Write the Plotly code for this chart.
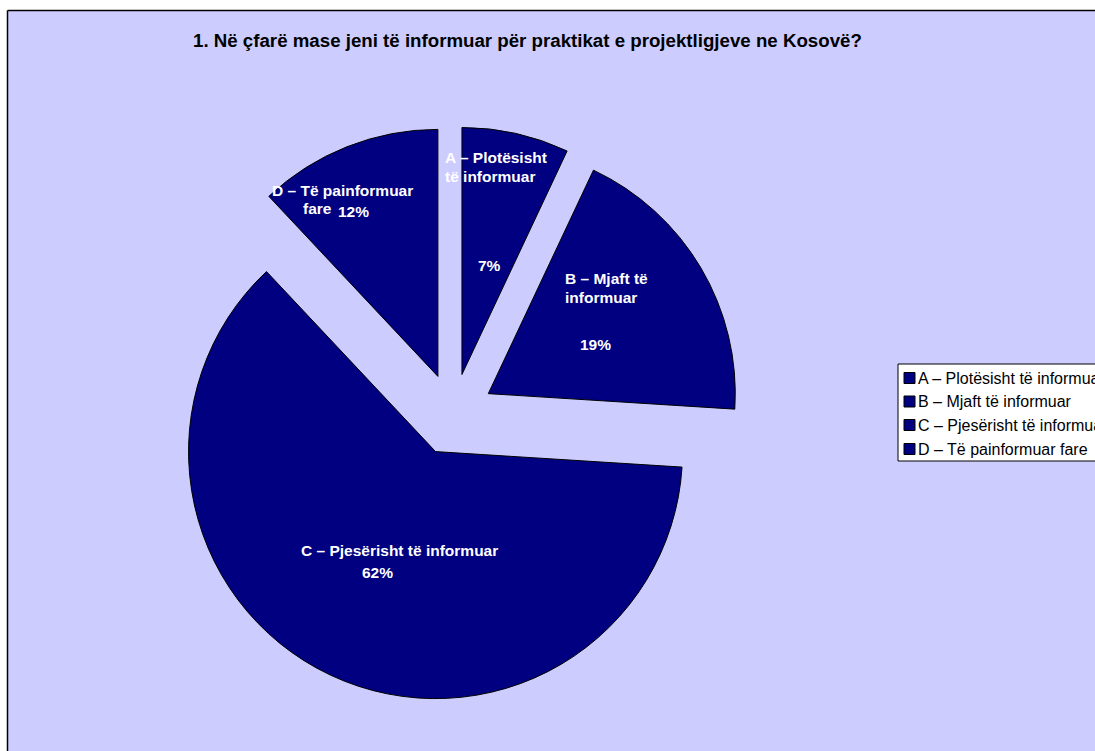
import plotly.graph_objects as go

# Survey answers: share of respondents per category (percent)
categories = [
    "A – Plotësisht të informuar",
    "B – Mjaft të informuar",
    "C – Pjesërisht të informuar",
    "D – Të painformuar fare",
]
values = [7, 19, 62, 12]

# In-slice label lines for each category
slice_label_lines = [
    ["A – Plotësisht", "të informuar"],
    ["B – Mjaft të", "informuar"],
    ["C – Pjesërisht të informuar"],
    ["D – Të painformuar", "fare"],
]

title_text = "1. Në çfarë mase jeni të informuar për praktikat e projektligjeve ne Kosovë?"

W, H = 1095, 751
NAVY = "#000080"
BG = "#CCCCFF"
FONT = "Liberation Sans, Arial, sans-serif"


def px(x):
    return x / W


def py(y):
    return 1 - y / H


# pie geometry (pixels)
cx, cy, r, pull = 453, 414.5, 247, 0.166
half = r * (1 + pull)

fig = go.Figure()
fig.add_trace(go.Pie(
    labels=categories,
    values=values,
    sort=False,
    direction="clockwise",
    rotation=0,
    pull=[pull] * len(values),
    marker=dict(colors=[NAVY] * len(values), line=dict(color="black", width=1)),
    textinfo="none",
    hoverinfo="label+percent",
    showlegend=False,
    domain=dict(x=[px(cx - half), px(cx + half)], y=[py(cy + half), py(cy - half)]),
))

total = sum(values)
pct = [f"{round(v / total * 100)}%" for v in values]

lab_font = dict(family=FONT, size=15.5, color="white")
annotations = []
shapes = []


def add_text(text, x, y, xanchor="left"):
    annotations.append(dict(
        text=f"<b>{text}</b>", x=px(x), y=py(y), xref="paper", yref="paper",
        xanchor=xanchor, yanchor="middle", showarrow=False, font=lab_font,
    ))


# A
add_text(slice_label_lines[0][0], 443, 157.5)
add_text(slice_label_lines[0][1], 443, 176.5)
add_text(pct[0], 489.5, 265.5, "center")
# B
add_text(slice_label_lines[1][0], 563, 278.5)
add_text(slice_label_lines[1][1], 563, 297)
add_text(pct[1], 595.5, 344, "center")
# C
add_text(slice_label_lines[2][0], 299, 550)
add_text(pct[2], 377.5, 572.5, "center")
# D
add_text(slice_label_lines[3][0], 270, 190.5)
add_text(slice_label_lines[3][1], 301, 208.5)
add_text(pct[3], 353.5, 211.5, "center")

# white page strips left of and above the chart area, then its frame lines
shapes.append(dict(type="rect", xref="paper", yref="paper", layer="below",
                   x0=-0.1, x1=px(7.5), y0=-0.1, y1=1.1,
                   fillcolor="white", line=dict(width=0)))
shapes.append(dict(type="rect", xref="paper", yref="paper", layer="below",
                   x0=-0.1, x1=1.1, y0=py(10.5), y1=1.1,
                   fillcolor="white", line=dict(width=0)))
shapes.append(dict(type="line", xref="paper", yref="paper", layer="below",
                   x0=px(7.5), x1=px(7.5), y0=-0.1, y1=py(10.5),
                   line=dict(color="black", width=1.5)))
shapes.append(dict(type="line", xref="paper", yref="paper", layer="below",
                   x0=px(7.5), x1=1.1, y0=py(10.5), y1=py(10.5),
                   line=dict(color="black", width=1.5)))

# legend box, running past the right edge of the page
leg_left, leg_top, leg_bottom = 898, 364, 461
shapes.append(dict(type="rect", xref="paper", yref="paper", layer="above",
                   x0=px(leg_left), x1=px(W + 20), y0=py(leg_bottom), y1=py(leg_top),
                   fillcolor="white", line=dict(color="black", width=1)))
row_y = [378, 401.5, 425, 449]
for name, yy in zip(categories, row_y):
    shapes.append(dict(type="rect", xref="paper", yref="paper", layer="above",
                       x0=px(904), x1=px(915), y0=py(yy + 5.5), y1=py(yy - 5.5),
                       fillcolor=NAVY, line=dict(color="black", width=1)))
    annotations.append(dict(
        text=name, x=px(916), y=py(yy), xref="paper", yref="paper",
        xanchor="left", yanchor="middle", showarrow=False,
        font=dict(family=FONT, size=16, color="black"),
    ))

# title
annotations.append(dict(
    text=f"<b>{title_text}</b>", x=px(527), y=py(40), xref="paper", yref="paper",
    xanchor="center", yanchor="middle", showarrow=False,
    font=dict(family=FONT, size=18.7, color="black"),
))

fig.update_layout(
    width=W, height=H,
    margin=dict(l=0, r=0, t=0, b=0),
    paper_bgcolor=BG,
    plot_bgcolor=BG,
    font=dict(family=FONT, color="black"),
    showlegend=False,
    shapes=shapes,
    annotations=annotations,
)

# keep the page itself from scrolling
fig.write_html(
    "out.html",
    config={"displayModeBar": False},
    post_script="document.documentElement.style.overflow='hidden';"
                "document.body.style.overflow='hidden';"
                "document.body.style.margin='0';",
)
